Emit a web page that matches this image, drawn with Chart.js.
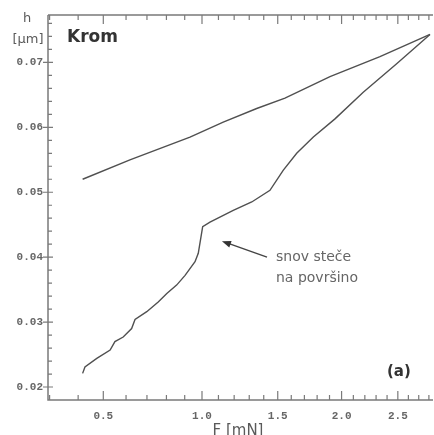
<!DOCTYPE html>
<html>
<head>
<meta charset="utf-8">
<script src="https://cdn.jsdelivr.net/npm/chart.js@4/dist/chart.umd.min.js"></script>
<style>
  html, body { margin: 0; padding: 0; background: #fff; }
  #wrap { width: 434px; height: 435px; }
</style>
</head>
<body>
<div id="wrap"><canvas id="c" width="434" height="435"></canvas></div>
<script>
// --- Data: indentation depth h [µm] vs. load F [mN] ---
// Loading branch
const loadF = [0.417, 0.426, 0.473, 0.529, 0.550, 0.587, 0.626, 0.642, 0.699, 0.757, 0.802, 0.855, 0.902, 0.959,
               0.978, 1.004, 1.048, 1.194, 1.317, 1.444, 1.541, 1.641, 1.770, 1.945, 2.186, 2.489, 2.811];
const loadH = [0.0221, 0.0231, 0.0244, 0.0257, 0.0270, 0.0277, 0.0290, 0.0304, 0.0316, 0.0331, 0.0344, 0.0357, 0.0372, 0.0393,
               0.0406, 0.0447, 0.0454, 0.0472, 0.0485, 0.0503, 0.0534, 0.0560, 0.0585, 0.0613, 0.0654, 0.0698, 0.0743];
// Unloading branch
const unloadF = [0.417, 0.618, 0.930, 1.130, 1.351, 1.553, 1.904, 2.335, 2.811];
const unloadH = [0.0520, 0.0550, 0.0585, 0.0608, 0.0629, 0.0645, 0.0678, 0.0709, 0.0743];

// Tick labels (x axis runs in sqrt(F))
const xTickValues = [0.5, 1.0, 1.5, 2.0, 2.5];
const xTickLabels = ['0.5', '1.0', '1.5', '2.0', '2.5'];
const yTickValues = [0.02, 0.03, 0.04, 0.05, 0.06, 0.07];
const yTickLabels = ['0.02', '0.03', '0.04', '0.05', '0.06', '0.07'];

// Arrow + note (data coordinates)
const arrowTail = { F: 1.423, h: 0.0400 };
const arrowHead = { F: 1.122, h: 0.04246 };
const noteLines = ['snov steče', 'na površino'];

const toPts = (fs, hs) => fs.map((f, i) => ({ x: Math.sqrt(f), y: hs[i] }));

const AXIS = '#7a7a7a';
const TEXT = '#5a5a5a';

// --- Axes, ticks and labels drawn on top of the plot ---
const framePlugin = {
  id: 'frame',
  afterDraw(chart) {
    const { ctx, chartArea: a, scales: { x, y } } = chart;
    ctx.save();
    ctx.strokeStyle = AXIS;
    ctx.lineWidth = 1.5;
    ctx.beginPath();
    ctx.moveTo(a.left, a.top); ctx.lineTo(a.left, a.bottom); ctx.lineTo(a.right, a.bottom);
    ctx.moveTo(a.left, a.top); ctx.lineTo(a.right, a.top);
    ctx.stroke();

    // x ticks every 0.1 mN, longer every 0.5 (bottom and top, pointing inward)
    ctx.lineWidth = 1.2;
    ctx.beginPath();
    for (let k = 3; k <= 28; k++) {
      const px = x.getPixelForValue(Math.sqrt(k / 10));
      const len = (k % 5 === 0) ? 9 : 5;
      ctx.moveTo(px, a.bottom); ctx.lineTo(px, a.bottom - len);
      ctx.moveTo(px, a.top); ctx.lineTo(px, a.top + len);
    }
    // y ticks every 0.002, major crosses the axis
    for (let k = 10; k <= 38; k++) {
      const v = k / 500;
      const py = y.getPixelForValue(v);
      if (py < a.top || py > a.bottom) continue;
      if (k % 5 === 0) { ctx.moveTo(a.left - 5, py); ctx.lineTo(a.left + 5, py); }
      else { ctx.moveTo(a.left, py); ctx.lineTo(a.left + 4, py); }
    }
    ctx.stroke();

    // tick labels
    ctx.fillStyle = '#666';
    ctx.font = 'bold 11px "Liberation Mono"';
    ctx.textBaseline = 'middle';
    ctx.textAlign = 'center';
    xTickValues.forEach((v, i) => ctx.fillText(xTickLabels[i], x.getPixelForValue(Math.sqrt(v)), a.bottom + 16));
    ctx.textAlign = 'right';
    yTickValues.forEach((v, i) => ctx.fillText(yTickLabels[i], a.left - 5, y.getPixelForValue(v)));

    // axis titles
    ctx.fillStyle = TEXT;
    ctx.font = '13px "DejaVu Sans"';
    ctx.textAlign = 'center';
    ctx.fillText('h', 27, 19);
    ctx.fillText('[µm]', 28, 40);
    ctx.font = '15px "DejaVu Sans"';
    ctx.fillText('F [mN]', 238, 431);

    // panel labels
    ctx.fillStyle = '#333';
    ctx.textAlign = 'left';
    ctx.font = 'bold 17px "DejaVu Sans"';
    ctx.fillText('Krom', 67, 38);
    ctx.font = 'bold 15px "DejaVu Sans"';
    ctx.fillText('(a)', 387, 372);

    // annotation arrow
    const tx = x.getPixelForValue(Math.sqrt(arrowTail.F)), ty = y.getPixelForValue(arrowTail.h);
    const hx = x.getPixelForValue(Math.sqrt(arrowHead.F)), hy = y.getPixelForValue(arrowHead.h);
    const ang = Math.atan2(hy - ty, hx - tx);
    ctx.strokeStyle = '#444';
    ctx.fillStyle = '#333';
    ctx.lineWidth = 1.4;
    ctx.beginPath();
    ctx.moveTo(tx, ty);
    ctx.lineTo(hx - 6 * Math.cos(ang), hy - 6 * Math.sin(ang));
    ctx.stroke();
    ctx.beginPath();
    ctx.moveTo(hx, hy);
    ctx.lineTo(hx - 9 * Math.cos(ang) + 3.5 * Math.sin(ang), hy - 9 * Math.sin(ang) - 3.5 * Math.cos(ang));
    ctx.lineTo(hx - 9 * Math.cos(ang) - 3.5 * Math.sin(ang), hy - 9 * Math.sin(ang) + 3.5 * Math.cos(ang));
    ctx.closePath();
    ctx.fill();

    ctx.fillStyle = '#666';
    ctx.font = '14px "DejaVu Sans"';
    ctx.textAlign = 'left';
    ctx.fillText(noteLines[0], 276, 257);
    ctx.fillText(noteLines[1], 276, 278);
    ctx.restore();
  }
};

new Chart(document.getElementById('c').getContext('2d'), {
  type: 'line',
  data: {
    datasets: [
      { label: 'obremenitev', data: toPts(loadF, loadH), borderColor: '#505050', borderWidth: 1.4, pointRadius: 0, tension: 0 },
      { label: 'razbremenitev', data: toPts(unloadF, unloadH), borderColor: '#505050', borderWidth: 1.4, pointRadius: 0, tension: 0 }
    ]
  },
  options: {
    responsive: false,
    devicePixelRatio: 1,
    animation: false,
    layout: { padding: { top: 15, right: 1, left: 0, bottom: 0 } },
    scales: {
      x: {
        type: 'linear', min: 0.543, max: 1.6855,
        ticks: { display: false }, grid: { display: false }, border: { display: false },
        afterFit: s => { s.height = 35; }
      },
      y: {
        type: 'linear', min: 0.0180, max: 0.0773,
        ticks: { display: false }, grid: { display: false }, border: { display: false },
        afterFit: s => { s.width = 48; }
      }
    },
    plugins: { legend: { display: false }, tooltip: { enabled: false } }
  },
  plugins: [framePlugin]
});
</script>
</body>
</html>
